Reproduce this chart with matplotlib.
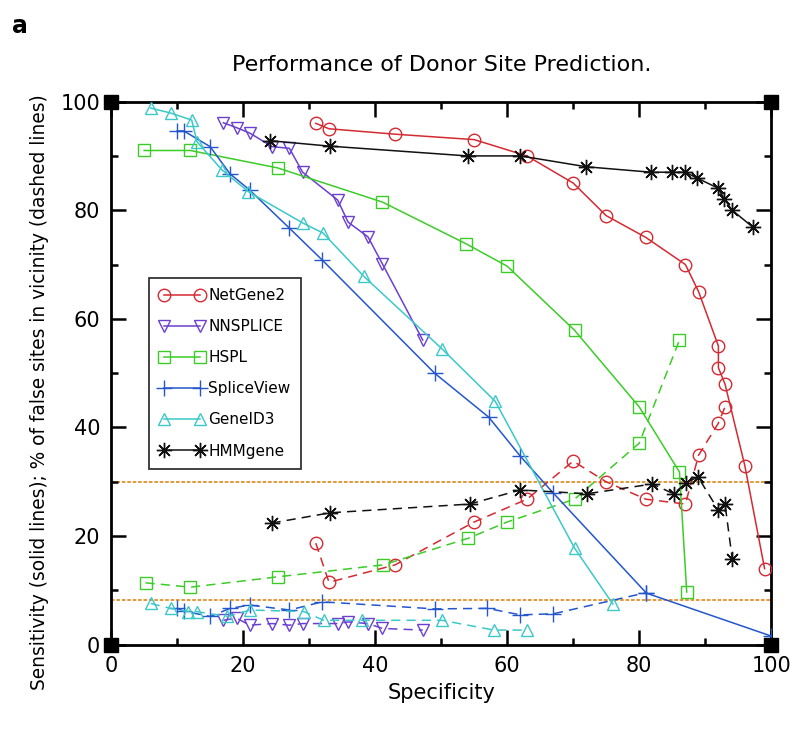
import matplotlib.pyplot as plt
from matplotlib.ticker import MultipleLocator

# NetGene2
ng_x = [31, 33, 43, 55, 63, 70, 75, 81, 87, 89, 92, 92, 93, 96, 99]
ng_sens = [96, 95, 94, 93, 90, 85, 79, 75, 70, 65, 55, 51, 48, 33, 14]
ng_fx = [31, 33, 43, 55, 63, 70, 75, 81, 87, 89, 92, 93]
ng_false = [18.7, 11.5, 14.7, 22.6, 26.8, 33.8, 30.0, 26.8, 25.9, 34.9, 40.8, 43.8]

# NNSPLICE
nn_x = [17, 19, 21, 24.4, 27, 29, 34.3, 35.9, 38.9, 41.1, 47.2]
nn_sens = [96.1, 95.2, 94.2, 91.7, 91.4, 87.0, 81.9, 77.8, 75.1, 70.1, 56.1]
nn_false = [4.5, 4.9, 3.6, 3.9, 3.6, 3.9, 3.9, 4.2, 3.9, 3.0, 2.7]

# HSPL
hs_x = [5, 12, 25.2, 41.1, 53.8, 60, 70.2, 80, 86.1, 87.2]
hs_sens = [91, 91, 87.8, 81.5, 73.8, 69.7, 57.9, 43.8, 31.8, 9.7]
hs_fx = [5.2, 12, 25.2, 41.2, 54.1, 60, 70.2, 80, 86.1]
hs_false = [11.4, 10.6, 12.5, 14.7, 19.6, 22.6, 26.8, 37.1, 56.1]

# SpliceView
sv_x = [10, 11, 15, 18, 21, 27, 32, 49, 57.2, 62, 67, 81.1, 100]
sv_sens = [94.6, 94.6, 91.7, 86.7, 83.7, 76.7, 70.8, 50, 41.9, 34.7, 27.9, 9.5, 1.6]
sv_fx = [10, 11, 15, 18, 21, 27, 32, 49, 57, 62, 67, 81.1]
sv_false = [6.7, 6.2, 5.2, 6.7, 7.3, 6.4, 7.9, 6.6, 6.7, 5.5, 5.7, 9.6]

# GeneID3
gi_x = [6, 9, 12.2, 13, 16.8, 20.8, 29.1, 32.1, 38.3, 50.1, 58.2, 70.2, 76]
gi_sens = [98.8, 97.9, 96.6, 92.6, 87.4, 83.4, 77.6, 75.8, 67.8, 54.5, 44.8, 17.8, 7.5]
gi_fx = [6, 9, 11.7, 13, 17.6, 21.1, 29.2, 32.2, 38, 50.1, 58, 63]
gi_false = [7.6, 6.7, 6.1, 6.1, 5.2, 6.4, 6.1, 4.5, 4.5, 4.5, 2.7, 2.7]

# HMMgene
hm_x = [24.1, 33.1, 54, 62, 72, 81.8, 85, 87, 88.8, 91.9, 92.9, 94, 97.2]
hm_sens = [92.8, 91.8, 90, 90, 88, 87, 87, 87, 85.9, 84.1, 82.1, 80.1, 76.9]
hm_fx = [24.3, 33.2, 54.3, 62, 72.1, 82, 85.2, 87.1, 88.9, 92, 93, 94.1]
hm_false = [22.4, 24.3, 25.9, 28.5, 27.8, 29.6, 27.8, 29.8, 30.9, 24.8, 25.9, 15.8]

ref_levels = [30, 8.2]

series = [
    ("NetGene2", ng_x, ng_sens, ng_fx, ng_false, "#d42a32", "o"),
    ("NNSPLICE", nn_x, nn_sens, nn_x, nn_false, "#6b40d0", "v"),
    ("HSPL", hs_x, hs_sens, hs_fx, hs_false, "#3ccc28", "s"),
    ("SpliceView", sv_x, sv_sens, sv_fx, sv_false, "#2456cc", "+"),
    ("GeneID3", gi_x, gi_sens, gi_fx, gi_false, "#3cc8c8", "^"),
    ("HMMgene", hm_x, hm_sens, hm_fx, hm_false, "#111111", (8, 2, 0)),
]

fig = plt.figure(figsize=(8, 7.31), dpi=100)
ax = fig.add_axes([0.139, 0.118, 0.825, 0.743])

for lvl in ref_levels:
    ax.axhline(lvl, color="#e0902a", lw=1.3, ls=(0, (2, 1)), zorder=1)

for name, x, s, fx, f, col, mk in series:
    ms = 11 if mk in ("+", (8, 2, 0)) else 9
    ax.plot(x, s, color=col, lw=1.1, marker=mk, ms=ms, mfc="none", mec=col,
            mew=1.0, label=name, zorder=3)
    ax.plot(fx, f, color=col, lw=1.1, ls=(0, (6, 4)), marker=mk, ms=ms,
            mfc="none", mec=col, mew=1.0, zorder=3)

# corner squares
ax.plot([0, 0, 100, 100], [0, 100, 0, 100], ls="none", marker="s", ms=10,
        color="black", clip_on=False, zorder=5)

ax.set_xlim(0, 100)
ax.set_ylim(0, 100)
ax.xaxis.set_major_locator(MultipleLocator(20))
ax.xaxis.set_minor_locator(MultipleLocator(10))
ax.yaxis.set_major_locator(MultipleLocator(20))
ax.yaxis.set_minor_locator(MultipleLocator(10))
ax.tick_params(which="both", direction="in", top=True, right=True, width=1.8,
               labelsize=15, pad=8)
ax.tick_params(which="major", length=11)
ax.tick_params(which="minor", length=5)
for sp in ax.spines.values():
    sp.set_linewidth(2)

ax.set_title("Performance of Donor Site Prediction.", fontsize=16, pad=22)
ax.set_xlabel("Specificity", fontsize=15, labelpad=5)
ax.set_ylabel("Sensitivity (solid lines); % of false sites in vicinity (dashed lines)",
              fontsize=13.4)
ax.yaxis.set_label_coords(-0.095, 0.465)

leg = ax.legend(loc="upper left", bbox_to_anchor=(0.045, 0.69), numpoints=2,
                fontsize=11, frameon=True, fancybox=False, edgecolor="black",
                handlelength=3.0, handletextpad=0.2, borderpad=0.7,
                labelspacing=1.05)
leg.get_frame().set_linewidth(1.3)

fig.text(0.015, 0.965, "a", fontsize=17, fontweight="bold", va="center")

fig.savefig("out.png", dpi=100)
